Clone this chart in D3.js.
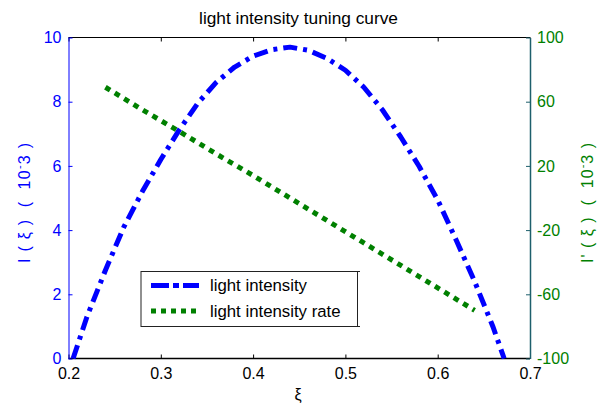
<!DOCTYPE html>
<html>
<head>
<meta charset="utf-8">
<script src="https://cdn.jsdelivr.net/npm/d3@7"></script>
<style>
html,body{margin:0;padding:0;background:#fff;}
svg{display:block;font-family:"Liberation Sans",Arial,sans-serif;}
</style>
</head>
<body>
<svg id="chart" width="605" height="408"></svg>
<script>
// ---- data ----
const intensityX = [0.205,0.22,0.24,0.26,0.28,0.30,0.32,0.34,0.36,0.38,0.40,0.42,0.44,0.46,0.48,0.50,0.52,0.54,0.56,0.58,0.60,0.62,0.64,0.66,0.672];
const intensityY = [0,1.3,2.75,4.1,5.2,6.2,7.12,7.95,8.6,9.08,9.42,9.62,9.7,9.6,9.35,8.98,8.45,7.75,6.9,5.98,4.94,3.69,2.4,0.98,0];
const rateX = [0.24,0.28,0.32,0.36,0.40,0.44,0.48,0.52,0.56,0.60,0.64];
const rateY = [69,55,41.5,27.5,14,0,-14,-28,-42,-56,-70];
const xTicks = [0.2,0.3,0.4,0.5,0.6,0.7];
const leftTicks = [0,2,4,6,8,10];
const rightTicks = [-100,-60,-20,20,60,100];
const legendLabels = ["light intensity","light intensity rate"];
const titleText = "light intensity tuning curve";

// ---- layout ----
const FONT = "Liberation Sans, Arial, sans-serif";
const L = 68.5, R = 530, T = 37.5, B = 358.5;
const svg = d3.select("#chart");
const x = d3.scaleLinear().domain([0.2,0.7]).range([L,R]);
const yL = d3.scaleLinear().domain([0,10]).range([B,T]);
const yR = d3.scaleLinear().domain([-100,100]).range([B,T]);
const BLUE = "#0000ff", GREEN = "#008000", TEAL = "#1d5f6c";
const FS = 16;

// frame top/bottom
svg.append("line").attr("x1",L).attr("x2",R).attr("y1",T).attr("y2",T).attr("stroke","#000");
svg.append("line").attr("x1",L).attr("x2",R).attr("y1",B).attr("y2",B).attr("stroke","#000").attr("stroke-width",1.5);

// bottom axis
const gB = svg.append("g").attr("transform",`translate(0,${B})`)
  .call(d3.axisBottom(x).tickValues(xTicks).tickSizeInner(-4).tickSizeOuter(0).tickPadding(9).tickFormat(d3.format(".1f")));
gB.select(".domain").remove();
gB.selectAll("line").attr("stroke","#000");
gB.selectAll("text").attr("font-size",FS).attr("font-family",FONT).attr("fill","#000");
// top ticks
const gT = svg.append("g").attr("transform",`translate(0,${T})`)
  .call(d3.axisTop(x).tickValues(xTicks).tickSizeInner(-4).tickSizeOuter(0).tickFormat(""));
gT.select(".domain").remove();
gT.selectAll("line").attr("stroke","#000");

// left axis
const gL = svg.append("g").attr("transform",`translate(${L},0)`)
  .call(d3.axisLeft(yL).tickValues(leftTicks).tickSizeInner(-4).tickSizeOuter(0).tickPadding(7).tickFormat(d=>String(d)));
gL.select(".domain").attr("stroke",BLUE);
gL.selectAll("line").attr("stroke",BLUE);
gL.selectAll("text").attr("font-size",FS).attr("font-family",FONT).attr("fill",BLUE);

// right axis
const gR = svg.append("g").attr("transform",`translate(${R},0)`)
  .call(d3.axisRight(yR).tickValues(rightTicks).tickSizeInner(-4).tickSizeOuter(0).tickPadding(7).tickFormat(d=>String(d)));
gR.select(".domain").attr("stroke",TEAL).attr("stroke-width",1.5);
gR.selectAll("line").attr("stroke",TEAL);
gR.selectAll("text").attr("font-size",FS).attr("font-family",FONT).attr("fill",GREEN);

// lines
const lineI = d3.line().x((d,i)=>x(intensityX[i])).y(d=>yL(d));
const lineR = d3.line().x((d,i)=>x(rateX[i])).y(d=>yR(d));
svg.append("path").attr("d",lineI(intensityY)).attr("fill","none").attr("stroke",BLUE)
  .attr("stroke-width",5).attr("stroke-dasharray","14,6,4,6").attr("stroke-linejoin","round");
svg.append("path").attr("d",lineR(rateY)).attr("fill","none").attr("stroke",GREEN)
  .attr("stroke-width",5).attr("stroke-dasharray","5.5,5.5");

// title
svg.append("text").attr("x",298.5).attr("y",24).attr("text-anchor","middle")
  .attr("font-family",FONT).attr("font-size",17.3).attr("fill","#000").text(titleText);

// x label
svg.append("text").attr("x",298).attr("y",400).attr("text-anchor","middle")
  .attr("font-family",FONT).attr("font-size",FS).attr("fill","#000").text("ξ");

// y labels
function ylabel(cx, prefix, color){
  const t = svg.append("text").attr("transform",`translate(${cx},203) rotate(-90)`)
    .attr("text-anchor","middle").attr("dominant-baseline","central")
    .attr("font-family",FONT).attr("font-size",FS).attr("fill",color)
    .attr("textLength",120).attr("lengthAdjust","spacing")
    .style("white-space","pre");
  t.append("tspan").text(prefix + " ( ξ )  (  10");
  t.append("tspan").attr("dy",-5).attr("font-size",11).text("-");
  t.append("tspan").attr("dy",5).text("3 )");
}
ylabel(24,"I",BLUE);
ylabel(587,"I'",GREEN);

// legend
const lg = svg.append("g");
lg.append("rect").attr("x",141).attr("y",271.5).attr("width",216.5).attr("height",55)
  .attr("fill","#fff").attr("stroke","#222").attr("stroke-width",1);
lg.append("line").attr("x1",357.5).attr("x2",360).attr("y1",271.5).attr("y2",271.5).attr("stroke","#222");
lg.append("line").attr("x1",357.5).attr("x2",360).attr("y1",326.5).attr("y2",326.5).attr("stroke","#222");
const legY = [285.5,311];
lg.append("line").attr("x1",151).attr("x2",199).attr("y1",legY[0]).attr("y2",legY[0])
  .attr("stroke",BLUE).attr("stroke-width",5).attr("stroke-dasharray","18,4,6,4");
lg.append("line").attr("x1",151).attr("x2",199).attr("y1",legY[1]).attr("y2",legY[1])
  .attr("stroke",GREEN).attr("stroke-width",5).attr("stroke-dasharray","5,5");
legendLabels.forEach((s,i)=>{
  lg.append("text").attr("x",210).attr("y",legY[i]).attr("dominant-baseline","central")
    .attr("font-family",FONT).attr("font-size",16.8).attr("fill","#000").text(s);
});
</script>
</body>
</html>
